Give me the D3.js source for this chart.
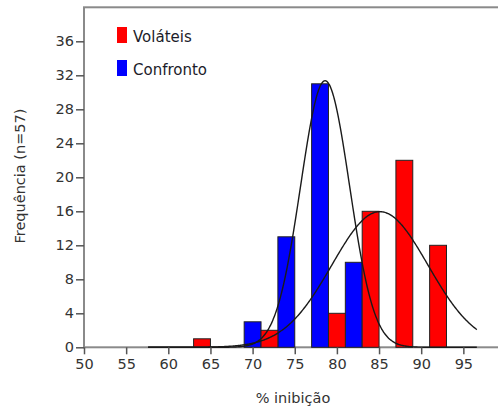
<!DOCTYPE html>
<html>
<head>
<meta charset="utf-8">
<script src="https://cdn.jsdelivr.net/npm/d3@7/dist/d3.min.js"></script>
<style>
  body { margin: 0; background: #fff; }
  svg { display: block; font-family: "DejaVu Sans", sans-serif; }
</style>
</head>
<body>
<svg id="chart"></svg>
<script>
// histogram bins (centre of each 4-unit class)
const binCenters = [63, 67, 71, 75, 79, 83, 87, 91];
const volateis = [1, 0, 2, 0, 4, 16, 22, 12];
const confronto = [0, 0, 3, 13, 31, 10, 0, 0];
const xTicks = [50, 55, 60, 65, 70, 75, 80, 85, 90, 95];
const yTicks = [0, 4, 8, 12, 16, 20, 24, 28, 32, 36];
// normal curves fitted to each series (mean, sd)
const curveVol = { mean: 85.1, sd: 5.7 };
const curveConf = { mean: 78.6, sd: 2.9 };
const curveRange = [57.6, 96.6];
const n = 57;
const binWidth = 4;

let width = 498;
let height = 412;

let svg = d3.select('#chart')
  .attr('width', width)
  .attr('height', height);

let x = d3.scaleLinear().domain([50, 100]).range([84, 505.5]);
let y = d3.scaleLinear().domain([0, 40]).range([347.3, 7.3]);

// frame (runs past the right edge like the source)
svg.append('rect')
  .attr('x', x(50))
  .attr('y', y(40))
  .attr('width', x(100) - x(50))
  .attr('height', y(0) - y(40))
  .attr('fill', 'none')
  .attr('stroke', '#8a8a8a')
  .attr('stroke-width', 2);

// bars
let half = binWidth / 2;
svg.append('g').selectAll('rect')
  .data(binCenters.map((c, i) => ({ c, v: confronto[i] })).filter(d => d.v > 0))
  .enter().append('rect')
  .attr('x', d => x(d.c - half))
  .attr('y', d => y(d.v))
  .attr('width', d => x(d.c) - x(d.c - half))
  .attr('height', d => y(0) - y(d.v))
  .attr('fill', '#0000ff')
  .attr('stroke', '#222')
  .attr('stroke-width', 1);

svg.append('g').selectAll('rect')
  .data(binCenters.map((c, i) => ({ c, v: volateis[i] })).filter(d => d.v > 0))
  .enter().append('rect')
  .attr('x', d => x(d.c))
  .attr('y', d => y(d.v))
  .attr('width', d => x(d.c + half) - x(d.c))
  .attr('height', d => y(0) - y(d.v))
  .attr('fill', '#ff0000')
  .attr('stroke', '#222')
  .attr('stroke-width', 1);

// normal curves
function normal(p) {
  let pts = d3.range(curveRange[0], curveRange[1] + 0.001, 0.1);
  return pts.map(t => [t, n * binWidth * Math.exp(-0.5 * ((t - p.mean) / p.sd) ** 2) / (p.sd * Math.sqrt(2 * Math.PI))]);
}
let line = d3.line().x(d => x(d[0])).y(d => y(d[1])).curve(d3.curveBasis);
[curveConf, curveVol].forEach(p => {
  svg.append('path')
    .attr('d', line(normal(p)))
    .attr('fill', 'none')
    .attr('stroke', '#1a1a1a')
    .attr('stroke-width', 1.4);
});

// axes
let xAxis = svg.append('g')
  .attr('transform', `translate(0,${y(0)})`)
  .call(d3.axisBottom(x).tickValues(xTicks).tickSize(7).tickPadding(4));
let yAxis = svg.append('g')
  .attr('transform', `translate(${x(50)},0)`)
  .call(d3.axisLeft(y).tickValues(yTicks).tickSize(8).tickPadding(2));
[xAxis, yAxis].forEach(a => {
  a.select('.domain').remove();
  a.selectAll('line').attr('stroke', '#555').attr('stroke-width', 1.5);
  a.selectAll('text').attr('fill', '#333').style('font-size', '14.5px').style('font-family', '"DejaVu Sans", sans-serif');
});

// axis titles
svg.append('text')
  .attr('x', 293)
  .attr('y', 403)
  .attr('text-anchor', 'middle')
  .attr('fill', '#333')
  .style('font-size', '14.5px')
  .text('% inibição');

svg.append('text')
  .attr('transform', 'rotate(-90)')
  .attr('x', -176)
  .attr('y', 25)
  .attr('text-anchor', 'middle')
  .attr('fill', '#333')
  .style('font-size', '14.5px')
  .text('Frequência (n=57)');

// legend
let legend = [
  { name: 'Voláteis', color: '#ff0000', y: 27 },
  { name: 'Confronto', color: '#0000ff', y: 60 }
];
legend.forEach(l => {
  svg.append('rect')
    .attr('x', 117)
    .attr('y', l.y)
    .attr('width', 10)
    .attr('height', 16)
    .attr('fill', l.color);
  svg.append('text')
    .attr('x', 133)
    .attr('y', l.y + 15)
    .attr('fill', '#1c1c2a')
    .style('font-size', '15px')
    .text(l.name);
});
</script>
</body>
</html>
